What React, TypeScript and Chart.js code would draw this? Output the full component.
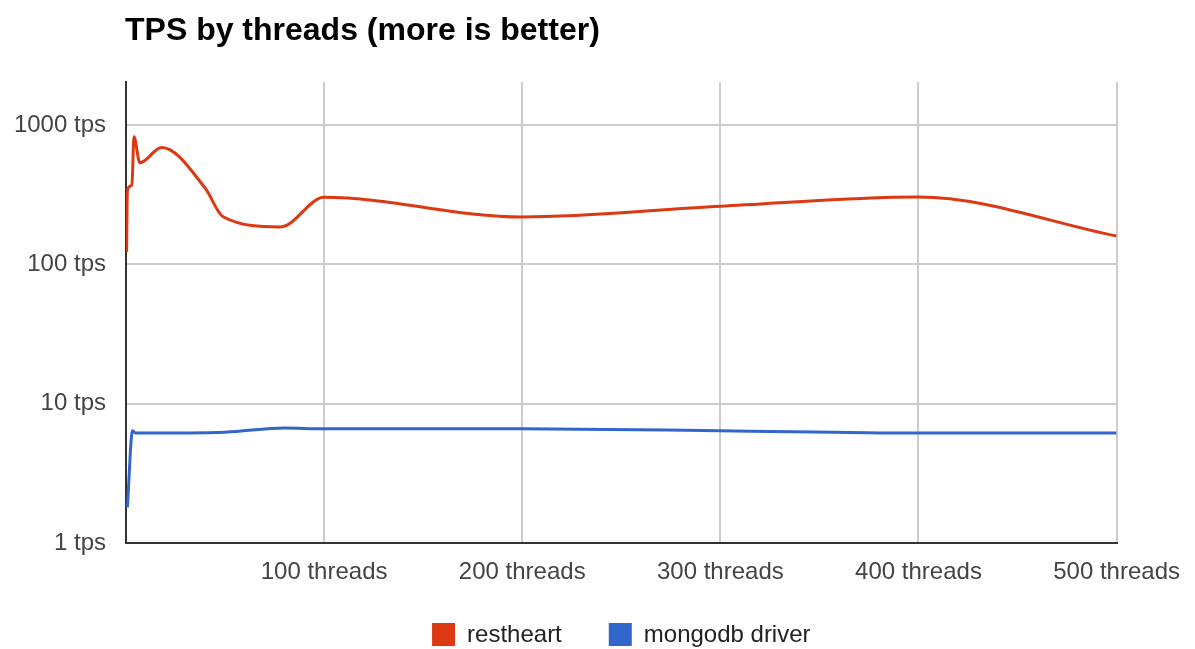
import React, { useEffect, useRef } from "react";
import { Chart, registerables } from "chart.js";

Chart.register(...registerables);

const chartTitle = "TPS by threads (more is better)";
const xTickValues = [0, 100, 200, 300, 400, 500];
const yTickValues = [1, 10, 100, 1000];

const restheartThreads = [0.3, 0.7, 3, 4, 7, 18, 40, 49, 78, 100, 200, 300, 400, 500];
const restheartTps = [123, 342, 372, 826, 537, 690, 352, 220, 186, 303, 219, 262, 305, 160];

const mongoThreads = [0.7, 3.3, 5, 50, 80, 100, 200, 300, 400, 500];
const mongoTps = [1.8, 6.4, 6.15, 6.25, 6.7, 6.6, 6.6, 6.4, 6.15, 6.15];

const seriesNames = ["restheart", "mongodb driver"];
const seriesColors = ["#dc3912", "#3366cc"];

const FONT = '"Liberation Sans", Arial, sans-serif';

const textPlugin = {
  id: "customText",
  afterDraw(chart: any) {
    const ctx = chart.ctx;
    const area = chart.chartArea;
    ctx.save();
    ctx.fillStyle = "#000";
    ctx.font = `bold 32px ${FONT}`;
    ctx.textAlign = "left";
    ctx.textBaseline = "alphabetic";
    ctx.fillText(chartTitle, 125, 40);

    // legend
    ctx.font = `24px ${FONT}`;
    const sq = 23;
    const gapAfterSq = 12;
    const gapBetween = 47;
    const widths = seriesNames.map((n) => ctx.measureText(n).width);
    let total = 0;
    widths.forEach((w, i) => {
      total += sq + gapAfterSq + w + (i < widths.length - 1 ? gapBetween : 0);
    });
    let x = (area.left + area.right) / 2 - total / 2;
    const cy = 634.5;
    seriesNames.forEach((n, i) => {
      ctx.fillStyle = seriesColors[i];
      ctx.fillRect(x, cy - sq / 2, sq, sq);
      x += sq + gapAfterSq;
      ctx.fillStyle = "#222";
      ctx.textBaseline = "middle";
      ctx.fillText(n, x, cy + 1);
      x += widths[i] + gapBetween;
    });
    ctx.restore();
  },
};

export default function App() {
  const canvasRef = useRef<HTMLCanvasElement | null>(null);

  useEffect(() => {
    if (!canvasRef.current) return;
    const chart = new Chart(canvasRef.current, {
      type: "line",
      data: {
        datasets: [
          {
            label: seriesNames[0],
            data: restheartThreads.map((t, i) => ({ x: t, y: restheartTps[i] })),
            borderColor: seriesColors[0],
            backgroundColor: seriesColors[0],
            borderWidth: 3,
            pointRadius: 0,
            cubicInterpolationMode: "monotone",
          },
          {
            label: seriesNames[1],
            data: mongoThreads.map((t, i) => ({ x: t, y: mongoTps[i] })),
            borderColor: seriesColors[1],
            backgroundColor: seriesColors[1],
            borderWidth: 3,
            pointRadius: 0,
            cubicInterpolationMode: "monotone",
          },
        ],
      },
      options: {
        animation: false,
        responsive: false,
        maintainAspectRatio: false,
        layout: { padding: { top: 82, right: 77, bottom: 0, left: 0 } },
        plugins: {
          legend: { display: false },
          title: { display: false },
          tooltip: { enabled: false },
        },
        scales: {
          x: {
            type: "linear",
            min: 0,
            max: 500,
            afterBuildTicks: (scale: any) => {
              scale.ticks = xTickValues.map((v) => ({ value: v }));
            },
            afterFit: (scale: any) => {
              scale.height = 106;
            },
            ticks: {
              callback: (v: any) => (v === 0 ? "" : `${v} threads`),
              font: { family: FONT, size: 24 },
              color: "#444",
              padding: 15,
              maxRotation: 0,
              autoSkip: false,
            },
            grid: {
              drawTicks: false,
              color: (c: any) => (c.tick && c.tick.value === 0 ? "rgba(0,0,0,0)" : "#cccccc"),
              lineWidth: 2,
            },
            border: { display: true, color: "#333333", width: 2 },
          },
          y: {
            type: "logarithmic",
            min: 1,
            max: 2040,
            afterBuildTicks: (scale: any) => {
              scale.ticks = yTickValues.map((v) => ({ value: v }));
            },
            afterFit: (scale: any) => {
              scale.width = 126;
            },
            ticks: {
              callback: (v: any) => `${v} tps`,
              font: { family: FONT, size: 24 },
              color: "#444",
              padding: 20,
              autoSkip: false,
            },
            grid: {
              drawTicks: false,
              color: (c: any) => (c.tick && c.tick.value === 1 ? "rgba(0,0,0,0)" : "#cccccc"),
              lineWidth: 2,
            },
            border: { display: true, color: "#333333", width: 2 },
          },
        },
      },
      plugins: [textPlugin],
    });
    return () => chart.destroy();
  }, []);

  return (
    <div style={{ position: "absolute", left: 0, top: 0, width: 1195, height: 649, background: "#fff" }}>
      <canvas ref={canvasRef} width={1195} height={649} style={{ width: 1195, height: 649 }} />
    </div>
  );
}
